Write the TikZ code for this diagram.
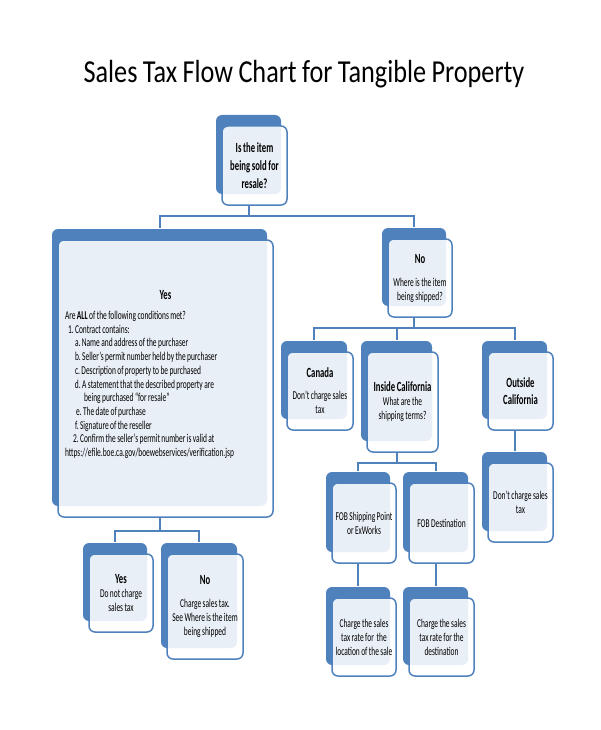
\documentclass[tikz,border=0pt]{standalone}
\usepackage{fontspec}
\setmainfont{Carlito}[FakeStretch=0.62, WordSpace=0.85]
\newfontfamily\titlefont{Carlito}[FakeStretch=0.82, WordSpace=0.9]
\usetikzlibrary{shadows}
\definecolor{cardblue}{RGB}{79,129,189}
\newcommand\boxhead[1]{{\fontsize{14}{17}\selectfont\bfseries #1}}
\frenchspacing

\begin{document}
\begin{tikzpicture}[x=1pt,y=-1pt,
  card/.style={draw=cardblue, line width=1.5pt, rounded corners=6pt, fill=white, fill opacity=0.88, text opacity=1,
    inner sep=0pt, align=center, font=\fontsize{12}{14}\selectfont,
    general shadow={fill=cardblue, fill opacity=1, shadow xshift=-6pt, shadow yshift=11pt}},
  link/.style={draw=cardblue, line width=2pt}]
\useasboundingbox (0,0) rectangle (600,730);
\node[anchor=base, font=\titlefont\fontsize{32}{38}\selectfont] (title) at (304,83) {Sales Tax Flow Chart for Tangible Property};

\node[card, minimum width=65pt, minimum height=79pt, font=\fontsize{14}{18}\selectfont\bfseries] (q) at (254.5,165.5) {Is the item\\being sold for\\resale?};
\node[card, minimum width=215pt, minimum height=277pt, text width=201pt, align=left, font=\fontsize{12}{13.7}\selectfont] (yes) at (165.5,378.5)
  {\spaceskip=0pt\xspaceskip=0pt
   \makebox[\linewidth]{\boxhead{Yes}}\\[6pt]
   Are \textbf{ALL} of the following conditions met?\\
   \hspace*{3pt}1. Contract contains:\\
   \hspace*{10pt}a. Name and address of the purchaser\\
   \hspace*{10pt}b. Seller’s permit number held by the purchaser\\
   \hspace*{10pt}c. Description of property to be purchased\\
   \hspace*{10pt}d. A statement that the described property are\\
   \hspace*{19pt}being purchased “for resale”\\
   \hspace*{11pt}e. The date of purchase\\
   \hspace*{10pt}f. Signature of the reseller\\
   \hspace*{8pt}2. Confirm the seller’s permit number is valid at\\
   https://efile.boe.ca.gov/boewebservices/verification.jsp\\[-4pt]\mbox{}};
\node[card, minimum width=64pt, minimum height=78pt] (no) at (420,278) {\boxhead{No}\\[9pt]Where is the item\\being shipped?};

\node[card, minimum width=66pt, minimum height=78pt] (canada) at (320,391) {\boxhead{Canada}\\[8pt]Don’t charge sales\\tax};
\node[card, minimum width=71pt, minimum height=100pt] (inside) at (402.5,402) {\boxhead{Inside California}\\What are the\\shipping terms?};
\node[card, minimum width=65pt, minimum height=78pt, font=\fontsize{14}{17}\selectfont\bfseries] (outside) at (520.5,391) {Outside\\California};
\node[card, minimum width=65pt, minimum height=79pt] (outdc) at (520.5,502.5) {Don’t charge sales\\tax};

\node[card, minimum width=64pt, minimum height=80pt] (fobsp) at (364,523) {FOB Shipping Point\\or ExWorks};
\node[card, minimum width=65pt, minimum height=80pt] (fobd) at (441.5,523) {FOB Destination};
\node[card, minimum width=64pt, minimum height=78pt] (ratesale) at (364,637) {Charge the sales\\tax rate for~ the\\location of the sale};
\node[card, minimum width=65pt, minimum height=78pt] (ratedest) at (441.5,637) {Charge the sales\\tax rate for the\\destination};

\node[card, minimum width=64pt, minimum height=78pt] (yessmall) at (121,593) {\boxhead{Yes}\\Do not charge\\sales tax};
\node[card, minimum width=76pt, minimum height=105pt] (nosmall) at (205,606.5) {\boxhead{No}\\[9pt]Charge sales tax.\\See Where is the item\\being shipped};

\draw[link] ([xshift=-6pt]q.south) -- ++(0,10) -| ([xshift=-6pt,yshift=11pt]yes.north);
\draw[link] ([xshift=-6pt]q.south) -- ++(0,10) -| ([xshift=-6pt,yshift=11pt]no.north);
\draw[link] ([xshift=-6pt]no.south) -- ++(0,10) -| ([xshift=-6pt,yshift=11pt]canada.north);
\draw[link] ([xshift=-6pt]no.south) -- ++(0,10) -| ([xshift=-6pt,yshift=11pt]inside.north);
\draw[link] ([xshift=-6pt]no.south) -- ++(0,10) -| ([xshift=-6pt,yshift=11pt]outside.north);
\draw[link] ([xshift=-6pt]outside.south) -- ([xshift=-6pt,yshift=11pt]outdc.north);
\draw[link] ([xshift=-6pt]inside.south) -- ++(0,10) -| ([xshift=-6pt,yshift=11pt]fobsp.north);
\draw[link] ([xshift=-6pt]inside.south) -- ++(0,10) -| ([xshift=-6pt,yshift=11pt]fobd.north);
\draw[link] ([xshift=-6pt]fobsp.south) -- ([xshift=-6pt,yshift=11pt]ratesale.north);
\draw[link] ([xshift=-6pt]fobd.south) -- ([xshift=-6pt,yshift=11pt]ratedest.north);
\draw[link] ([xshift=-6pt]yes.south) -- ++(0,13) -| ([xshift=-6pt,yshift=11pt]yessmall.north);
\draw[link] ([xshift=-6pt]yes.south) -- ++(0,13) -| ([xshift=-6pt,yshift=11pt]nosmall.north);
\end{tikzpicture}
\end{document}
